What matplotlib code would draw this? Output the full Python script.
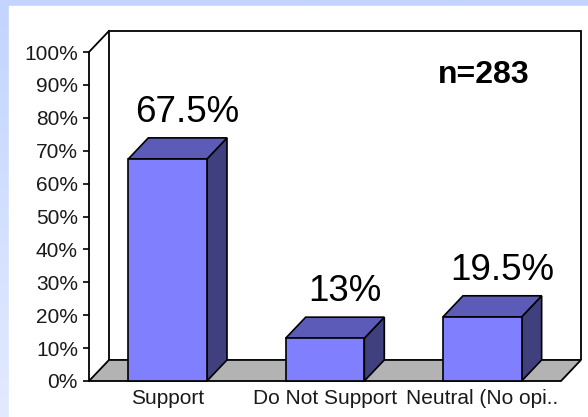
import numpy as np
import matplotlib.pyplot as plt
from matplotlib.patches import Polygon, Rectangle

plt.rcParams['font.family'] = ['Liberation Sans', 'DejaVu Sans']

categories = ["Support", "Do Not Support", "Neutral (No opi.."]
values = [67.5, 13.0, 19.5]
value_labels = ["67.5%", "13%", "19.5%"]
yticks = list(range(0, 101, 10))
note = "n=283"

front_col = "#8080FF"
top_col = "#5C5CB8"
side_col = "#40407F"
floor_col = "#B3B3B3"

fig = plt.figure(figsize=(5.88, 4.17), dpi=100)

# fond dégradé bleu + panneau blanc
bg = fig.add_axes([0, 0, 1, 1], zorder=-2)
grad = np.linspace(0, 1, 256).reshape(-1, 1)
c_top = np.array([0xC2, 0xD4, 0xFF]) / 255
c_bot = np.array([0xE2, 0xEA, 0xFF]) / 255
img = c_top[None, None, :] * (1 - grad[:, :, None]) + c_bot[None, None, :] * grad[:, :, None]
bg.imshow(img, aspect='auto', extent=[0, 1, 0, 1])
bg.add_patch(Rectangle((9 / 588, 0), 1, 1 - 6 / 417, color="white", transform=bg.transAxes))
bg.set_xlim(0, 1)
bg.set_ylim(0, 1)
bg.axis("off")

ax = fig.add_axes([89 / 588, 36 / 417, 472 / 588, 329 / 417])
ax.set_xlim(-0.5, 2.5)
ax.set_ylim(0, 100)
ax.patch.set_visible(False)

dx, dy = 0.127, 6.4
x0, x1 = -0.5, 2.5
w = 0.5

# mur du fond
ax.add_patch(Polygon([(x0 + dx, dy), (x0 + dx, 100 + dy), (x1 + dx, 100 + dy), (x1 + dx, dy)],
                     closed=False, facecolor="white", edgecolor="black", lw=1.3, clip_on=False, zorder=1))
ax.plot([x0, x0 + dx], [100, 100 + dy], color="black", lw=1.3, clip_on=False, zorder=1)
# sol
ax.add_patch(Polygon([(x0, 0), (x1, 0), (x1 + dx, dy), (x0 + dx, dy)],
                     facecolor=floor_col, edgecolor="black", lw=1.3, clip_on=False, zorder=2))

for i, v in enumerate(values):
    xl, xr = i - w / 2, i + w / 2
    ax.add_patch(Polygon([(xr, 0), (xr + dx, dy), (xr + dx, v + dy), (xr, v)],
                         facecolor=side_col, edgecolor="black", lw=1.2, clip_on=False, zorder=3))
    ax.add_patch(Polygon([(xl, v), (xr, v), (xr + dx, v + dy), (xl + dx, v + dy)],
                         facecolor=top_col, edgecolor="black", lw=1.2, clip_on=False, zorder=3))
    ax.add_patch(Rectangle((xl, 0), w, v, facecolor=front_col, edgecolor="black",
                           lw=1.2, clip_on=False, zorder=4))
    ax.text(i + 0.125, v + dy + 4.9, value_labels[i], ha="center", va="baseline",
            fontsize=26.5, zorder=5)

ax.text(2.01, 90.6, note, ha="center", va="baseline", fontsize=23, fontweight="bold")

ax.spines[["top", "right", "bottom"]].set_visible(False)
ax.spines["left"].set_linewidth(1.3)
ax.set_yticks(yticks)
ax.set_yticklabels([f"{t}%" for t in yticks])
ax.tick_params(axis="y", length=4.5, width=1.2, pad=3.5, labelsize=15, labelcolor="#1a1a1a")
ax.set_xticks(range(len(categories)))
ax.set_xticklabels(categories)
ax.tick_params(axis="x", length=0, pad=6, labelsize=15, labelcolor="#1a1a1a")

fig.savefig("out.png", dpi=100)
